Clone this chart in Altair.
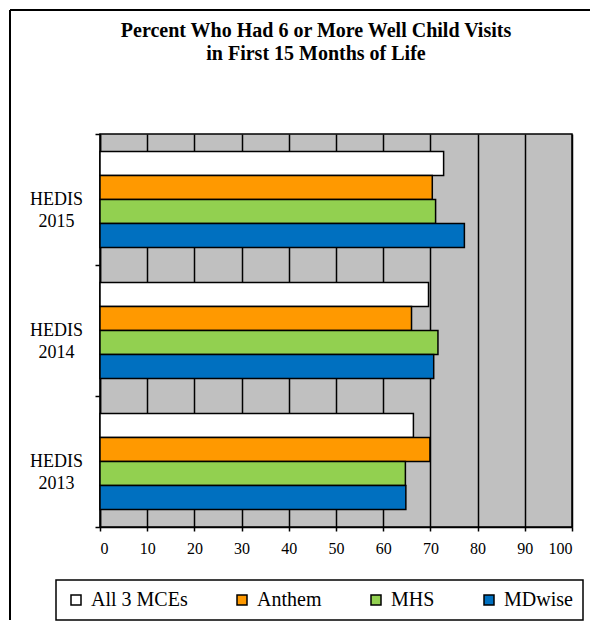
import altair as alt
import pandas as pd

years = ["HEDIS 2015", "HEDIS 2014", "HEDIS 2013"]
series = ["All 3 MCEs", "Anthem", "MHS", "MDwise"]
all3 = [72.8, 69.6, 66.4]
anthem = [70.4, 66.0, 69.9]
mhs = [71.1, 71.6, 64.7]
mdwise = [77.2, 70.7, 64.8]
colors = ["#FFFFFF", "#FF9900", "#92D050", "#0070C0"]
x_ticks = list(range(0, 101, 10))
title_text = "Percent Who Had 6 or More Well Child Visits\nin First 15 Months of Life"

rows = []
for s, vals in zip(series, [all3, anthem, mhs, mdwise]):
    for y, v in zip(years, vals):
        rows.append({"year": y, "series": s, "value": v})
df = pd.DataFrame(rows)

FONT = "Liberation Serif"
NB = "\u00a0"

bars = alt.Chart(df).mark_bar(stroke="black", strokeWidth=1.5).encode(
    x=alt.X(
        "value:Q",
        scale=alt.Scale(domain=[0, 100], nice=False),
        axis=alt.Axis(
            values=x_ticks, title=None, grid=True, gridColor="black", gridWidth=1.5,
            domainColor="black", domainWidth=1.5, tickColor="black", tickSize=4,
            tickWidth=1.5, labelFont=FONT, labelFontSize=16, labelColor="black",
            labelPadding=9,
        ),
    ),
    y=alt.Y(
        "year:N",
        sort=years,
        scale=alt.Scale(paddingInner=0, paddingOuter=0),
        axis=alt.Axis(
            title=None, tickBand="extent", tickSize=5, tickColor="black", tickWidth=1.5,
            domainColor="black", domainWidth=1.5, labelFont=FONT, labelFontSize=18,
            labelColor="black", labelAlign="center", labelBaseline="middle",
            labelPadding=39, labelLineHeight=22, labelExpr="split(datum.label, ' ')",
        ),
    ),
    yOffset=alt.YOffset("series:N", sort=series, scale=alt.Scale(paddingInner=0, paddingOuter=0.73)),
    color=alt.Color(
        "series:N",
        sort=series,
        scale=alt.Scale(domain=series, range=colors),
        legend=alt.Legend(
            orient="none", legendX=-44, legendY=446, direction="horizontal",
            title=NB * 7, titleOrient="left", titlePadding=0, titleFont=FONT,
            titleFontSize=20, labelFont=FONT, labelFontSize=20, labelColor="black",
            labelOffset=5, columnPadding=44, symbolType="square", symbolSize=100,
            symbolStrokeColor="black", symbolStrokeWidth=1.5, strokeColor="black",
            padding=10,
            labelExpr="datum.label == 'MDwise' ? datum.label + '" + NB * 5 + "' : datum.label",
        ),
    ),
)

one = pd.DataFrame({"a": [0]})
left_edge = alt.Chart(one).mark_rule(color="black", strokeWidth=2).encode(
    x=alt.value(-90), x2=alt.value(-90), y=alt.value(-124), y2=alt.value(486)
)
top_edge = alt.Chart(one).mark_rule(color="black", strokeWidth=2).encode(
    x=alt.value(-90), x2=alt.value(490), y=alt.value(-124), y2=alt.value(-124)
)
title = alt.Chart(one).mark_text(
    text=title_text, lineBreak="\n", font=FONT, fontSize=20, fontWeight="bold",
    lineHeight=23, align="center", baseline="alphabetic", color="black",
).encode(x=alt.value(216), y=alt.value(-97))

chart = alt.layer(left_edge, top_edge, title, bars).properties(
    width=472,
    height=393,
    autosize=alt.AutoSizeParams(type="none"),
    padding={"left": 92, "top": 126, "right": 27, "bottom": 96},
).configure(
    background="white", font=FONT
).configure_view(
    stroke="black", strokeWidth=1.5, fill="#C0C0C0"
).configure_legend(
    strokeWidth=1.5
)

chart.save("out.html", embed_options={"renderer": "svg", "actions": False})
